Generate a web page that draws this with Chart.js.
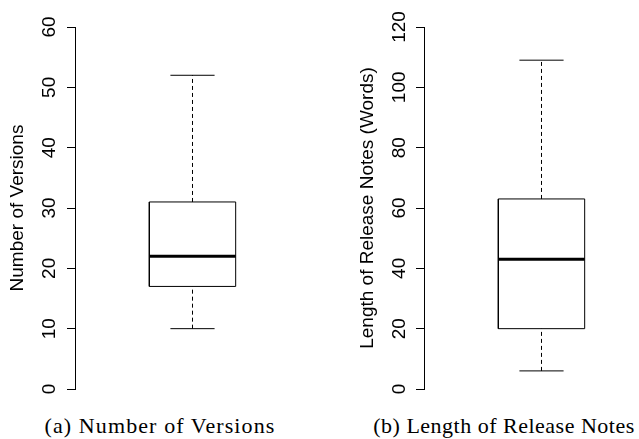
<!DOCTYPE html>
<html>
<head>
<meta charset="utf-8">
<script src="https://cdn.jsdelivr.net/npm/chart.js@4.4.0/dist/chart.umd.min.js"></script>
<style>
  html, body { margin: 0; padding: 0; background: #fff; }
  #wrap { position: relative; width: 639px; height: 439px; overflow: hidden; }
  canvas { position: absolute; top: 0; }
  .cap {
    position: absolute; top: 415px; width: 300px;
    font-family: 'Liberation Serif', serif; font-size: 22px; line-height: 22px;
    letter-spacing: 0.5px; color: #000; text-align: center; white-space: nowrap;
  }
</style>
</head>
<body>
<div id="wrap">
  <canvas id="versionsChart" width="320" height="400" style="left:0"></canvas>
  <canvas id="notesChart" width="319" height="400" style="left:320px"></canvas>
  <div class="cap" style="left:10px;letter-spacing:1.1px">(a) Number of Versions</div>
  <div class="cap" style="left:354px">(b) Length of Release Notes</div>
</div>
<script>
// five-number summaries: min, q1, median, q3, max
var versionsStats = [10, 17, 22, 31, 52];
var notesStats = [6, 20, 43, 63, 109];
var versionsTicks = [0, 10, 20, 30, 40, 50, 60];
var notesTicks = [0, 20, 40, 60, 80, 100, 120];

var labelFont = { family: 'Liberation Sans', size: 19 };

// builds the box, whiskers, caps and median as plain line segments
function boxDatasets(s) {
    var c = 1, w = 0.3675, cw = 0.188;
    function seg(points, extra) {
        return Object.assign({
            data: points,
            showLine: true,
            borderColor: '#000',
            borderWidth: 1,
            pointRadius: 0,
            borderCapStyle: 'butt',
            borderJoinStyle: 'miter',
            tension: 0,
            fill: false
        }, extra || {});
    }
    return [
        seg([{x: c, y: s[3]}, {x: c, y: s[4]}], {borderDash: [4, 3]}),
        seg([{x: c, y: s[0]}, {x: c, y: s[1]}], {borderDash: [4, 3]}),
        seg([{x: c - cw, y: s[4]}, {x: c + cw, y: s[4]}]),
        seg([{x: c - cw, y: s[0]}, {x: c + cw, y: s[0]}]),
        seg([{x: c - w, y: s[1]}, {x: c + w, y: s[1]}, {x: c + w, y: s[3]},
             {x: c - w, y: s[3]}, {x: c - w, y: s[1]}]),
        seg([{x: c - w, y: s[2]}, {x: c + w, y: s[2]}], {borderWidth: 3})
    ];
}

function makeOptions(ticks, title, axisX, padRight, labelPad, titlePad) {
    return {
        responsive: false,
        animation: false,
        devicePixelRatio: 1,
        layout: { padding: { top: 27, bottom: 11, left: 0, right: padRight } },
        plugins: { legend: { display: false }, tooltip: { enabled: false } },
        scales: {
            x: { type: 'linear', display: false, min: 0, max: 1.5 },
            y: {
                type: 'linear',
                min: ticks[0],
                max: ticks[ticks.length - 1],
                afterBuildTicks: function(s) {
                    s.ticks = ticks.map(function(v) { return { value: v }; });
                },
                afterFit: function(s) {
                    s.width = axisX;
                    // keep the plot height the same for both panels
                    s.paddingTop = 0;
                    s.paddingBottom = 0;
                },
                border: { display: true, color: '#000', width: 1 },
                grid: { display: true, drawOnChartArea: false, drawTicks: true, tickLength: 8, color: '#000', lineWidth: 1 },
                ticks: {
                    minRotation: 90, maxRotation: 90, crossAlign: 'center',
                    padding: labelPad, color: '#000', font: labelFont, autoSkip: false
                },
                title: { display: true, text: title, color: '#000', font: labelFont, padding: { top: titlePad, bottom: 0 } }
            }
        }
    };
}

new Chart(document.getElementById('versionsChart'), {
    type: 'scatter',
    data: { datasets: boxDatasets(versionsStats) },
    options: makeOptions(versionsTicks, 'Number of Versions', 75, 68.75, 7, 6.6)
});

new Chart(document.getElementById('notesChart'), {
    type: 'scatter',
    data: { datasets: boxDatasets(notesStats) },
    options: makeOptions(notesTicks, 'Length of Release Notes (Words)', 104, 38.75, 0, 36.6)
});
</script>
</body>
</html>
